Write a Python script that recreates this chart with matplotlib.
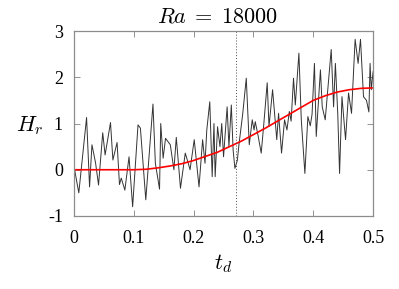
import numpy as np
import matplotlib.pyplot as plt

plt.rcParams["mathtext.fontset"] = "cm"
plt.rcParams["font.family"] = ["Liberation Serif", "DejaVu Serif"]

# noisy H_r signal (extrema only)
t_raw = [0.001, 0.008, 0.021, 0.026, 0.030, 0.036, 0.041, 0.048, 0.052, 0.061,
         0.065, 0.072, 0.076, 0.079, 0.085, 0.092, 0.098, 0.107, 0.111, 0.120,
         0.132, 0.136, 0.143, 0.145, 0.149, 0.153, 0.161, 0.167, 0.171, 0.178,
         0.186, 0.191, 0.194, 0.201, 0.209, 0.215, 0.219, 0.222, 0.227, 0.231,
         0.234, 0.236, 0.240, 0.244, 0.247, 0.250, 0.256, 0.259, 0.263, 0.266,
         0.269, 0.273, 0.276, 0.282, 0.288, 0.293, 0.298, 0.301, 0.303, 0.308,
         0.313, 0.317, 0.323, 0.326, 0.332, 0.339, 0.342, 0.347, 0.352, 0.356,
         0.360, 0.363, 0.367, 0.370, 0.376, 0.380, 0.386, 0.391, 0.395, 0.398,
         0.402, 0.405, 0.412, 0.415, 0.420, 0.430, 0.434, 0.437, 0.441, 0.444,
         0.448, 0.454, 0.459, 0.464, 0.470, 0.475, 0.479, 0.484, 0.489, 0.493,
         0.495, 0.497, 0.500]
h_raw = [0.00, -0.50, 1.13, -0.37, 0.54, 0.15, -0.33, 0.80, 0.32, 1.02,
         0.21, 0.59, -0.32, -0.18, -0.44, 0.28, -0.80, 0.97, 0.90, -0.65,
         1.42, 0.14, -0.42, 1.00, 0.25, 0.68, 0.54, 0.00, 0.70, -0.40,
         0.36, 0.14, 0.00, 0.65, -0.37, 0.65, 0.14, 0.86, 1.47, -0.15,
         1.00, -0.15, 0.93, 0.50, 1.00, 0.28, 1.36, 0.50, 1.40, 0.43,
         0.03, 0.20, 0.57, 1.20, 1.98, 0.54, 1.08, 0.86, 1.04, 0.72,
         0.36, 0.94, 1.88, 0.94, 1.73, 0.65, 1.22, 0.36, 1.08, 0.86,
         1.26, 1.05, 1.98, 1.40, 2.52, 1.08, -0.08, 1.15, 0.95, 1.20,
         2.30, 0.72, 2.16, 1.36, 1.08, 2.60, 1.36, 2.30, 1.20, -0.08,
         1.58, 0.65, 1.66, 1.22, 2.82, 2.30, 2.82, 1.58, 1.50, 1.25,
         2.30, 1.73, 2.12]

# smooth fit (red)
t_fit = [0.0, 0.05, 0.10, 0.12, 0.14, 0.16, 0.18, 0.20, 0.22, 0.24, 0.26,
         0.28, 0.30, 0.32, 0.34, 0.36, 0.38, 0.40, 0.42, 0.44, 0.46, 0.48, 0.50]
h_fit = [0.0, 0.0, 0.0, 0.01, 0.04, 0.08, 0.13, 0.20, 0.29, 0.38, 0.50,
         0.62, 0.76, 0.90, 1.05, 1.20, 1.35, 1.50, 1.60, 1.68, 1.73, 1.76, 1.77]

t_mark = 0.271

fig = plt.figure(figsize=(3.99, 2.89), dpi=100)
ax = fig.add_axes([0.1855, 0.2526, 0.7495, 0.6401])

ax.plot(t_raw, h_raw, color="0.2", lw=0.7)
ax.plot(t_fit, h_fit, color="red", lw=1.2)
ax.axvline(t_mark, color="0.3", lw=0.7, ls=(0, (1, 2)))

ax.set_xlim(0, 0.5)
ax.set_ylim(-1, 3)
ax.set_xticks([0, 0.1, 0.2, 0.3, 0.4, 0.5])
ax.set_xticklabels(["0", "0.1", "0.2", "0.3", "0.4", "0.5"])
ax.set_yticks([-1, 0, 1, 2, 3])
ax.set_yticklabels(["-1", "0", "1", "2", "3"])
ax.tick_params(direction="in", length=4, width=0.6, color="0.5",
               top=True, right=True, labelsize=13, pad=8)
ax.tick_params(axis="x", pad=10)
for s in ax.spines.values():
    s.set_color("0.55")
    s.set_linewidth(0.9)

ax.set_title(r"$Ra\;=\;18000$", fontsize=16, pad=6, x=0.48)
ax.set_xlabel(r"$t_d$", fontsize=16, labelpad=4)
ax.set_ylabel(r"$H_r$", fontsize=16, rotation=0, va="center", ha="center")
ax.yaxis.set_label_coords(-0.147, 0.49)

fig.savefig("out.png", dpi=100)
